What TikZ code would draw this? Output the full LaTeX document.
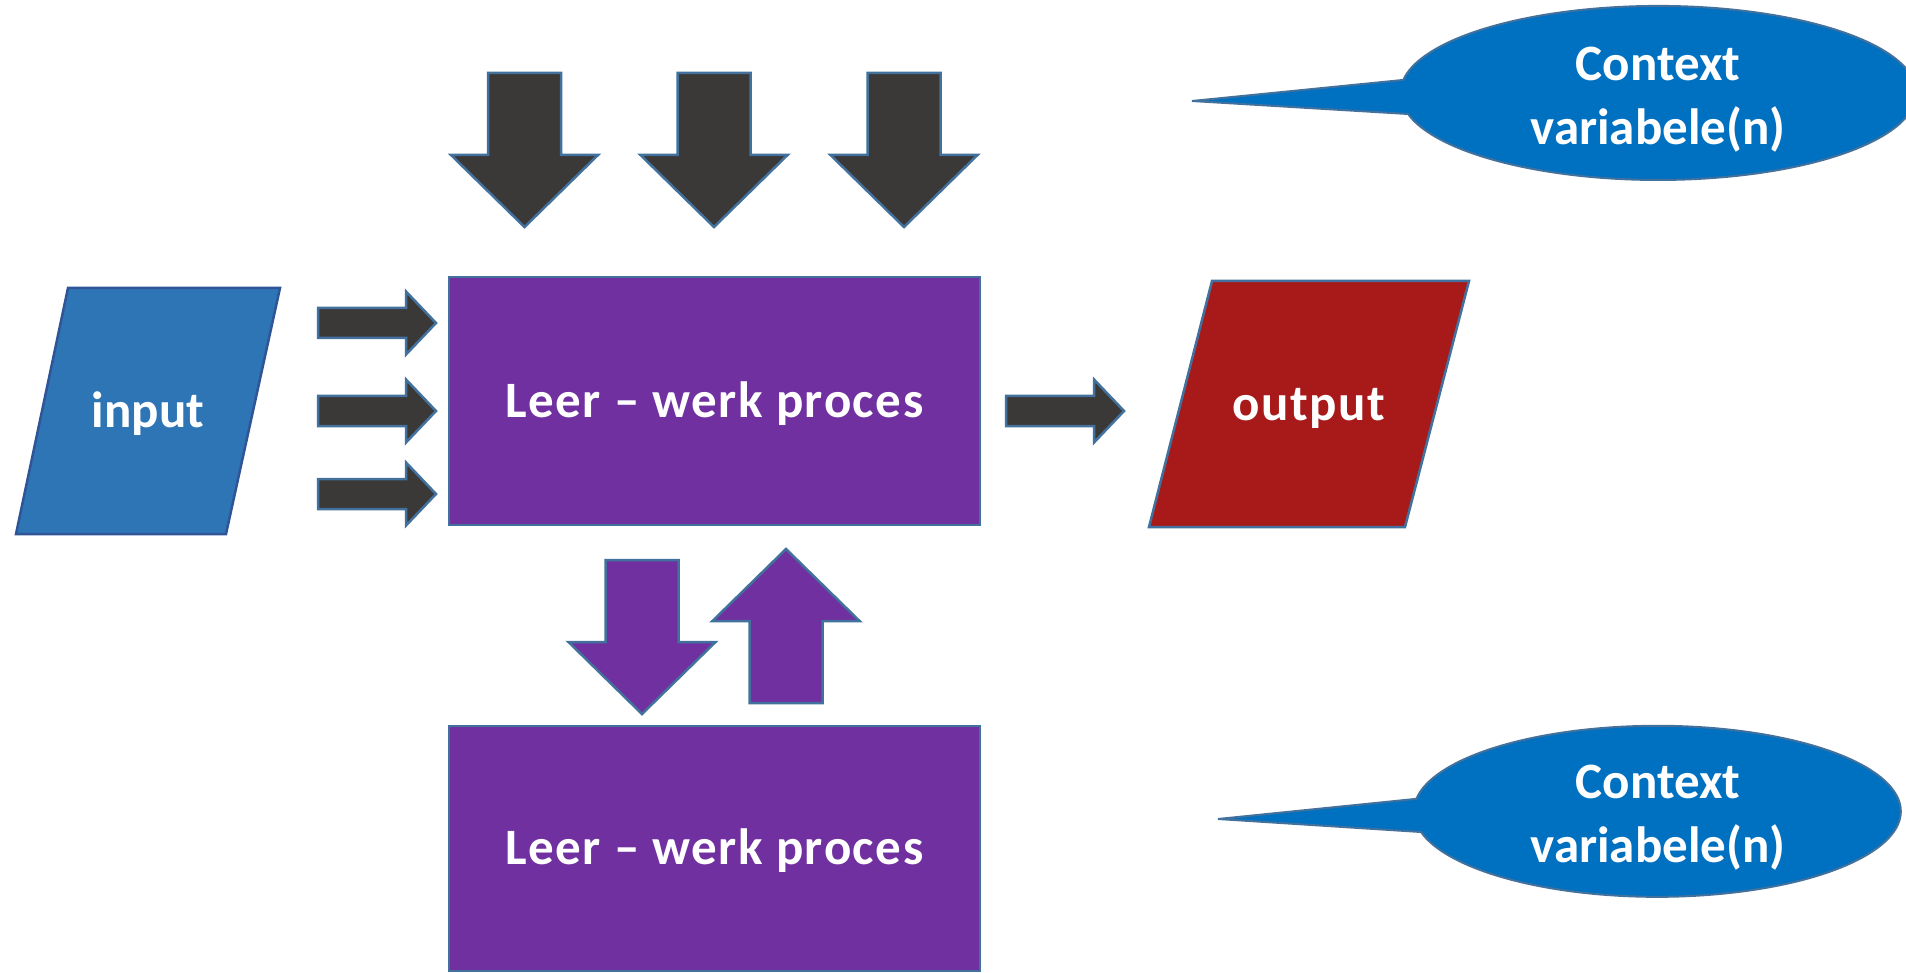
\documentclass[tikz,border=0pt]{standalone}
\usepackage{fontspec}
\setmainfont{Carlito}
\newfontfamily\spacedfont[LetterSpace=3]{Carlito}
\definecolor{inblue}{HTML}{2E75B6}
\definecolor{inbord}{HTML}{2F5597}
\definecolor{procpurple}{HTML}{7030A0}
\definecolor{darkc}{HTML}{3B3838}
\definecolor{outred}{HTML}{A81A1A}
\definecolor{callblue}{HTML}{0070C0}
\definecolor{bord}{HTML}{41719C}
\tikzset{
  lbl/.style={text=white, font=\fontsize{51}{64}\selectfont\bfseries, inner sep=0pt},
  onelbl/.style={lbl, text height=32.8pt, text depth=0pt},
  widelbl/.style={onelbl, font=\spacedfont\fontsize{51}{64}\selectfont\bfseries},
  twolbl/.style={lbl, align=center},
  boxline/.style={draw=bord, line width=2pt},
  procbox/.style={boxline, fill=procpurple, rectangle, minimum width=531pt, minimum height=248pt, inner sep=0pt},
  darkarr/.style={fill=darkc, draw=bord, line width=2.5pt, line join=miter},
  purparr/.style={fill=procpurple, draw=bord, line width=2.5pt, line join=miter},
  calloutshape/.style={fill=callblue, draw=bord, line width=2pt},
  pics/rarr/.style={code={\path[pic actions] (0,-15) -- (88,-15) -- (88,-31.5) -- (118,0) -- (88,31.5) -- (88,15) -- (0,15) -- cycle;}},
  pics/darr/.style={code={\path[pic actions] (-36.5,0) -- (36.5,0) -- (36.5,82) -- (73.5,82) -- (0,154) -- (-73.5,82) -- (-36.5,82) -- cycle;}},
}
\begin{document}
\begin{tikzpicture}[x=1pt,y=-1pt]
\useasboundingbox (0,0) rectangle (1906,973);
\clip (0,0) rectangle (1906,973);

% input parallelogram
\path[fill=inblue, draw=inbord, line width=2.5pt] (68,288) -- (280,288) -- (226,534) -- (16,534) -- cycle;
\node[onelbl] (input) at (148,411) {input};

% main process box
\node[procbox] (proc) at (714.5,401) {};
\node[widelbl] (proclbl) at (proc.center) {Leer – werk proces};

% lower process box
\node[procbox, minimum height=245pt] (proc2) at (714.5,848.5) {};
\node[widelbl] (proc2lbl) at (proc2.center) {Leer – werk proces};

% output parallelogram
\path[fill=outred, draw=bord, line width=2.5pt] (1212,281) -- (1469,281) -- (1405,527) -- (1149,527) -- cycle;
\node[widelbl] (output) at (1309,404) {output};

% input arrows
\pic[darkarr] at (318,323) {rarr};
\pic[darkarr] at (318,411) {rarr};
\pic[darkarr] at (318,494) {rarr};
% output arrow
\pic[darkarr] at (1006,411) {rarr};

% top arrows
\pic[darkarr] at (524.5,73) {darr};
\pic[darkarr] at (714,73) {darr};
\pic[darkarr] at (904,73) {darr};

% purple arrows between boxes
\pic[purparr] at (642,560) {darr};
\pic[purparr, rotate=180] at (786,703) {darr};

% callouts
\path[calloutshape] (1192,101) -- (1408,114) arc[start angle=166, end angle=-171.4, x radius=258, y radius=87] -- cycle;
\node[twolbl] (ctx1) at (1658,100) {Context\\variabele(n)};

\path[calloutshape] (1218,819) -- (1421,832) arc[start angle=166, end angle=-171.6, x radius=243.5, y radius=85.5] -- cycle;
\node[twolbl] (ctx2) at (1658,818) {Context\\variabele(n)};
\end{tikzpicture}
\end{document}
